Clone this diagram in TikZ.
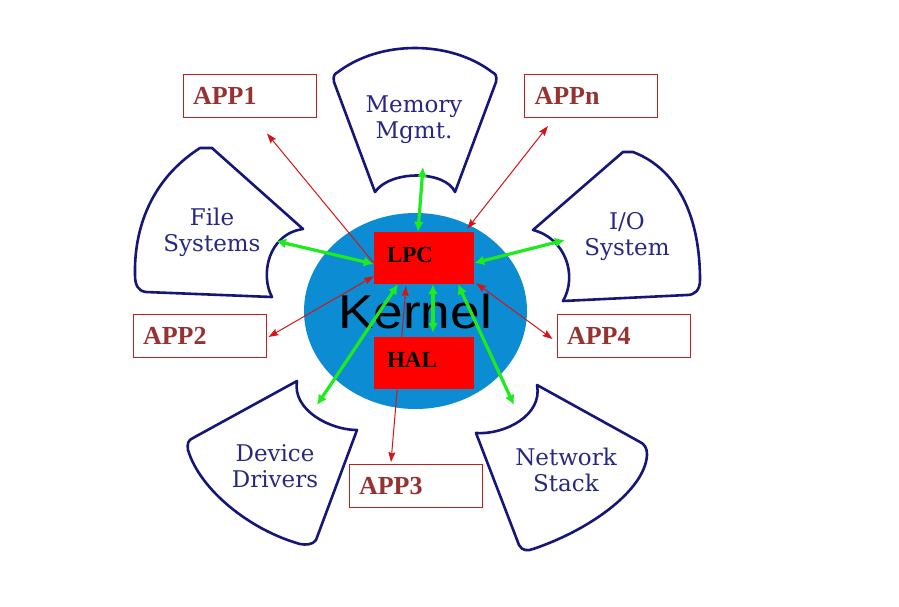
\documentclass[tikz,border=0pt]{standalone}
\usepackage{fontspec}
\usetikzlibrary{arrows.meta}
\newfontfamily\petalfont{DejaVu Serif}
\newfontfamily\appfont{Liberation Serif}
\newfontfamily\kernfont{Liberation Sans}
\definecolor{kblue}{RGB}{12,140,210}
\definecolor{navy}{RGB}{22,22,120}
\definecolor{navytext}{RGB}{40,40,130}
\definecolor{grn}{RGB}{30,235,30}
\definecolor{redline}{RGB}{215,20,20}
\definecolor{appborder}{RGB}{190,30,30}
\definecolor{apptext}{RGB}{150,50,50}
\pgfdeclarelayer{back}
\pgfdeclarelayer{mid}
\pgfsetlayers{back,mid,main}
\tikzset{
  petal/.style={draw=navy, line width=2.6pt, line join=round, fill=white},
  petaltext/.style={font=\petalfont\fontsize{23}{26}\selectfont, text=navytext, align=center, inner sep=0pt},
  appbox/.style={draw=appborder, line width=1pt, fill=white, minimum width=133pt, minimum height=43pt,
     text width=113pt, inner xsep=10pt, inner ysep=0pt, align=left, text height=17pt, text depth=0pt,
     font=\appfont\bfseries\fontsize{26}{30}\selectfont, text=apptext},
  redbox/.style={fill=red, draw=none, minimum width=100pt, minimum height=52pt, text width=74pt,
     inner xsep=13pt, inner ysep=0pt, align=left, text height=16pt, text depth=7pt,
     font=\appfont\bfseries\fontsize{23}{26}\selectfont, text=black},
  greenarr/.style={draw=grn, line width=3.2pt, {Latex[length=10pt,width=10pt]}-{Latex[length=10pt,width=10pt]}},
  redarr/.style={draw=redline, line width=1pt},
  redtip/.style={-{Stealth[length=10pt,width=7pt,inset=1.5pt]}},
  redtips/.style={{Stealth[length=10pt,width=7pt,inset=1.5pt]}-{Stealth[length=10pt,width=7pt,inset=1.5pt]}}
}
\begin{document}
\begin{tikzpicture}[x=1pt,y=-1pt]
\useasboundingbox (0,0) rectangle (899,606);
\begin{pgfonlayer}{back}
\fill[white] (0,0) rectangle (899,606);
% petals
\draw[petal] (375,192) -- (334,82) .. controls (333,76) and (334,74) .. (338,72)
  .. controls (380,40) and (450,40) .. (492,72) .. controls (496,74) and (497,76) .. (496,82)
  -- (455,192) .. controls (445,170) and (390,170) .. (375,192) -- cycle;
\draw[petal] (303,229) .. controls (268,234) and (260,275) .. (272,297) -- (146,292)
  .. controls (138,291) and (135,285) .. (135,275) .. controls (134,230) and (150,180) .. (200,148)
  -- (212,148) -- (303,229) -- cycle;
\draw[petal] (533,230) -- (623,152) -- (633,152) .. controls (680,170) and (700,220) .. (700,280)
  .. controls (700,290) and (695,295) .. (687,295) -- (563,301)
  .. controls (578,275) and (565,238) .. (533,230) -- cycle;
\draw[petal] (297,381) .. controls (292,410) and (330,430) .. (357,430) -- (316,540)
  .. controls (313,545) and (305,545) .. (300,544) .. controls (250,530) and (200,490) .. (188,450)
  .. controls (187,444) and (188,440) .. (193,438) -- (297,381) -- cycle;
\draw[petal] (537,385) .. controls (543,415) and (505,435) .. (476,433) -- (519,545)
  .. controls (522,551) and (528,551) .. (533,549) .. controls (590,530) and (645,490) .. (647,455)
  .. controls (647,447) and (644,444) .. (640,442) -- (537,385) -- cycle;
% kernel
\fill[kblue] (415.5,311) ellipse [x radius=111.5, y radius=98];
\end{pgfonlayer}

\node[petaltext] (mem) at (414,120) {Memory\\Mgmt.};
\node[petaltext] (fs) at (212,232) {File\\Systems};
\node[petaltext] (io) at (627,237) {I/O\\System};
\node[petaltext] (dd) at (275,466) {Device\\Drivers};
\node[petaltext] (ns) at (566,470) {Network\\Stack};

\node[font=\kernfont\fontsize{47.5}{50}\selectfont, xscale=1.12, anchor=base, inner sep=0pt] (kern) at (415,328) {Kernel};

% app boxes
\node[appbox] (app1) at (249.5,95.5) {APP1};
\node[appbox] (appn) at (591,96) {APPn};
\node[appbox] (app2) at (199.5,336) {APP2};
\node[appbox] (app4) at (623.5,336) {APP4};
\node[appbox] (app3) at (415.5,486) {APP3};

% red boxes
\node[redbox] (lpc) at (424,258) {LPC};
\node[redbox] (hal) at (424,363) {HAL};

% red connectors (behind the red boxes)
\begin{pgfonlayer}{mid}
\draw[redarr, redtip] ([yshift=-5pt]lpc.west) -- ([xshift=17.5pt,yshift=-16pt]app1.south);
\draw[redarr, redtips] ([xshift=-7pt,yshift=3pt]lpc.north east) -- ([xshift=-43pt,yshift=-8pt]appn.south);
\draw[redarr, redtips] ([yshift=8pt]lpc.south west) -- ([xshift=2pt,yshift=-1pt]app2.east);
\draw[redarr, redtips] ([xshift=2pt,yshift=1pt]lpc.south east) -- ([xshift=-4pt,yshift=-3pt]app4.west);
\draw[redarr, redtips] ([xshift=-18pt,yshift=-2pt]lpc.south) -- ([xshift=-24.5pt,yshift=2pt]app3.north);
\end{pgfonlayer}

% green connectors
\coordinate (memEnd) at (423,167);
\coordinate (fileEnd) at (276,241);
\coordinate (ioEnd) at (565,240);
\coordinate (devEnd) at (317,405);
\coordinate (netEnd) at (514,405);
\draw[greenarr] ([xshift=-6pt]lpc.north) -- (memEnd);
\draw[greenarr] ([yshift=-6pt]lpc.west) -- (fileEnd);
\draw[greenarr] ([yshift=-5pt]lpc.east) -- (ioEnd);
\draw[greenarr] ([xshift=9pt]lpc.south) -- ([xshift=9pt,yshift=4pt]hal.north);
\draw[greenarr] ([xshift=-26pt]lpc.south) -- (devEnd);
\draw[greenarr] ([xshift=34pt]lpc.south) -- (netEnd);
\end{tikzpicture}
\end{document}
